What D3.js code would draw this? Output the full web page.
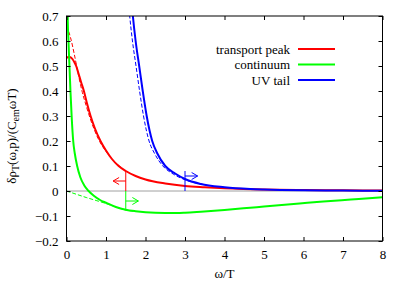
<!DOCTYPE html>
<html>
<head>
<meta charset="utf-8">
<script src="https://cdn.jsdelivr.net/npm/d3@7"></script>
<style>
  body { margin: 0; background: #fff; }
  svg text { font-family: "Liberation Serif", "Times New Roman", "DejaVu Serif", serif; font-size: 13px; fill: #000; }
</style>
</head>
<body>
<div id="chart"></div>
<script>
// curves: [omega/T, value]
const transportPeak = [[0,0.532],[0.05,0.536],[0.1,0.535],[0.15,0.528],[0.2,0.515],[0.25,0.498],[0.3,0.472],[0.37,0.435],[0.44,0.4],[0.52,0.35],[0.61,0.3],[0.72,0.25],[0.86,0.2],[1.0,0.162],[1.15,0.128],[1.32,0.1],[1.5,0.08],[1.75,0.06],[2.0,0.046],[2.5,0.03],[3.0,0.02],[3.5,0.015],[4,0.011],[5,0.006],[6,0.004],[7,0.003],[8,0.002]];
const transportPeakApprox = [[0,0.66],[0.1,0.615],[0.2,0.545],[0.3,0.465],[0.4,0.395],[0.5,0.34],[0.6,0.29],[0.8,0.21],[1.0,0.158],[1.2,0.12],[1.4,0.092]];
const continuum = [[0.01,1.0],[0.03,0.7],[0.05,0.6],[0.08,0.48],[0.1,0.4],[0.13,0.3],[0.17,0.2],[0.21,0.15],[0.27,0.1],[0.35,0.055],[0.45,0.022],[0.56,0],[0.7,-0.02],[0.85,-0.036],[1.0,-0.047],[1.25,-0.064],[1.5,-0.075],[1.75,-0.081],[2.0,-0.085],[2.5,-0.088],[2.8,-0.088],[3.0,-0.087],[3.4,-0.083],[4.0,-0.076],[4.65,-0.067],[5.0,-0.062],[5.9,-0.05],[6.5,-0.042],[7.2,-0.034],[8,-0.025]];
const continuumApprox = [[0,0],[0.25,-0.013],[0.5,-0.026],[0.75,-0.038],[1.0,-0.05],[1.25,-0.064],[1.5,-0.076],[1.7,-0.081]];
const uvTail = [[1.6,0.85],[1.68,0.7],[1.75,0.6],[1.84,0.5],[1.93,0.4],[2.03,0.3],[2.17,0.2],[2.3,0.15],[2.5,0.1],[2.75,0.07],[3.0,0.048],[3.4,0.028],[4.0,0.015],[4.65,0.008],[5,0.006],[6,0.003],[7,0.002],[8,0.001]];
const uvTailApprox = [[1.52,0.85],[1.6,0.7],[1.67,0.6],[1.76,0.5],[1.85,0.4],[1.95,0.3],[2.09,0.2],[2.23,0.15],[2.44,0.1],[2.7,0.068],[3.0,0.045],[3.5,0.025]];

const seriesNames = ["transport peak", "continuum", "UV tail"];
const seriesColors = ["#ff0000", "#00ff00", "#0000ff"];

// matching-point markers
const markerX = [1.5, 1.5, 3.0];
const markerEnd = [0.08, -0.077, 0.08];
const arrowY = [0.04, -0.04, 0.06];
const arrowDir = [-1, 1, 1];
const arrowLen = 0.32;

const xTicks = [0,1,2,3,4,5,6,7,8];
const yTicks = [-0.2,-0.1,0,0.1,0.2,0.3,0.4,0.5,0.6,0.7];

const FONT = "'Liberation Serif', 'Times New Roman', serif";

const W = 407, H = 285;
const margin = {top: 16, right: 24.5, bottom: 44, left: 66.5};
const width = W - margin.left - margin.right,
    height = H - margin.top - margin.bottom;

const svg = d3.select("#chart").append("svg")
    .attr("width", W).attr("height", H)
    .attr("font-family", FONT);

const g = svg.append("g")
    .attr("transform", "translate(" + margin.left + "," + margin.top + ")");

const x = d3.scaleLinear().domain([0, 8]).range([0, width]);
const y = d3.scaleLinear().domain([-0.2, 0.7]).range([height, 0]);

g.append("clipPath").attr("id", "clip")
    .append("rect").attr("width", width).attr("height", height);

// zero line
g.append("line")
    .attr("x1", 0).attr("x2", width)
    .attr("y1", y(0)).attr("y2", y(0))
    .attr("stroke", "#a0a0a0").attr("stroke-width", 1);

const line = d3.line()
    .x(d => x(d[0])).y(d => y(d[1]))
    .curve(d3.curveMonotoneX);

const plot = g.append("g").attr("clip-path", "url(#clip)");

const approx = [transportPeakApprox, continuumApprox, uvTailApprox];
const exact = [transportPeak, continuum, uvTail];

approx.forEach((s, i) => {
  plot.append("path").datum(s)
      .attr("d", line)
      .attr("fill", "none")
      .attr("stroke", seriesColors[i])
      .attr("stroke-width", 1)
      .attr("stroke-dasharray", "4,2");
});

exact.forEach((s, i) => {
  plot.append("path").datum(s)
      .attr("d", line)
      .attr("fill", "none")
      .attr("stroke", seriesColors[i])
      .attr("stroke-width", 2);
});

// markers with arrows
markerX.forEach((mx, i) => {
  const c = seriesColors[i];
  g.append("line")
      .attr("x1", x(mx)).attr("x2", x(mx))
      .attr("y1", y(0)).attr("y2", y(markerEnd[i]))
      .attr("stroke", c).attr("stroke-width", 1);
  const x0 = x(mx), x1 = x(mx + arrowDir[i] * arrowLen), ay = y(arrowY[i]);
  g.append("line")
      .attr("x1", x0).attr("x2", x1)
      .attr("y1", ay).attr("y2", ay)
      .attr("stroke", c).attr("stroke-width", 1);
  const hx = x1 - arrowDir[i] * 6;
  g.append("path")
      .attr("d", "M" + hx + "," + (ay - 3.5) + "L" + x1 + "," + ay + "L" + hx + "," + (ay + 3.5))
      .attr("fill", "none").attr("stroke", c).attr("stroke-width", 1);
});

// frame and ticks (mirrored, inward)
const tl = 4;
g.append("g").attr("transform", "translate(0," + height + ")")
    .call(d3.axisBottom(x).tickValues(xTicks).tickSize(-tl).tickPadding(9).tickFormat(d3.format("d")))
    .call(a => a.select(".domain").remove());
g.append("g")
    .call(d3.axisTop(x).tickValues(xTicks).tickSize(-tl).tickFormat(""))
    .call(a => a.select(".domain").remove());
g.append("g")
    .call(d3.axisLeft(y).tickValues(yTicks).tickSize(-tl).tickPadding(8)
      .tickFormat(d => d === 0 ? "0" : d3.format(".1f")(d)))
    .call(a => a.select(".domain").remove());
g.append("g").attr("transform", "translate(" + width + ",0)")
    .call(d3.axisRight(y).tickValues(yTicks).tickSize(-tl).tickFormat(""))
    .call(a => a.select(".domain").remove());

g.selectAll(".tick line").attr("stroke", "#000");
g.selectAll("g").attr("font-family", FONT).attr("font-size", 13);

g.append("rect")
    .attr("width", width).attr("height", height)
    .attr("fill", "none").attr("stroke", "#000").attr("stroke-width", 1);

// legend
const legend = g.append("g");
seriesNames.forEach((name, i) => {
  const ly = 33 + i * 15.5;
  legend.append("text")
      .attr("x", 223.5).attr("y", ly)
      .attr("dy", "0.35em")
      .attr("text-anchor", "end")
      .text(name);
  legend.append("line")
      .attr("x1", 231.5).attr("x2", 268.5)
      .attr("y1", ly).attr("y2", ly)
      .attr("stroke", seriesColors[i]).attr("stroke-width", 2);
});

// axis labels
svg.append("text")
    .attr("x", margin.left + width / 2).attr("y", 278)
    .attr("text-anchor", "middle")
    .text("ω/T");

const yl = svg.append("text")
    .attr("transform", "translate(16,136) rotate(-90)")
    .attr("text-anchor", "middle");
yl.append("tspan").text("δρ");
yl.append("tspan").attr("dy", 3).style("font-size", "10px").text("T");
yl.append("tspan").attr("dy", -3).text("(ω,p)/(C");
yl.append("tspan").attr("dy", 3).style("font-size", "10px").text("em");
yl.append("tspan").attr("dy", -3).text("ωT)");
</script>
</body>
</html>
